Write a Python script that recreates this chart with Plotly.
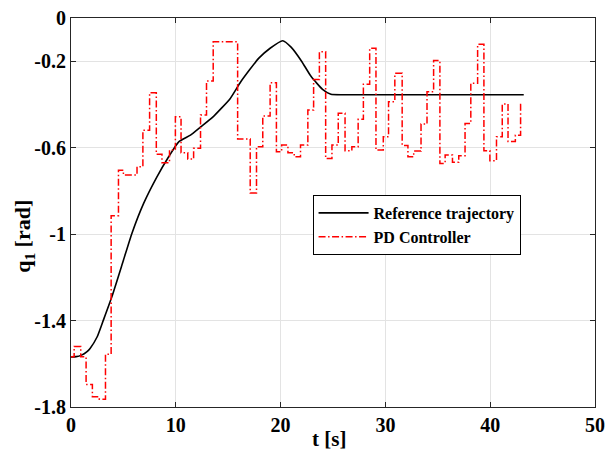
import plotly.graph_objects as go

# Reference trajectory (smooth)
ref_t = [0, 0.5, 1, 1.5, 1.82, 2.5, 3.09, 3.9, 5.01, 5.81, 6.93, 8.2, 9.32, 10.28, 11.4,
         12.4, 13.5, 15.2, 16.2, 17.9, 19, 20.2, 21, 22, 22.9, 24, 24.8, 26, 30, 43.2]
ref_q = [-1.568, -1.567, -1.56, -1.545, -1.529, -1.475, -1.398, -1.29, -1.12, -0.997,
         -0.858, -0.735, -0.642, -0.573, -0.542, -0.503, -0.46, -0.372, -0.295, -0.187,
         -0.14, -0.105, -0.135, -0.2, -0.27, -0.33, -0.353, -0.355, -0.355, -0.355]

# PD controller (piecewise constant, step start times and values)
pd_t = [0, 0.3, 0.93, 1.44, 2.04, 2.7, 3.29, 3.83, 4.53, 5.0, 6.3, 6.86, 7.5, 8.14, 8.68,
        9.4, 9.96, 10.5, 11.14, 11.7, 12.36, 12.93, 13.57, 15.9, 17.1, 17.7, 18.3, 19.0,
        19.6, 20.1, 20.7, 21.3, 21.9, 22.6, 23.15, 23.7, 24.3, 24.9, 25.5, 26.15, 26.8,
        27.4, 27.9, 28.5, 29.1, 29.8, 30.3, 30.9, 31.6, 32.15, 32.7, 33.4, 33.97, 34.6,
        35.2, 35.7, 36.4, 37.0, 37.6, 38.15, 38.8, 39.4, 39.97, 40.6, 41.15, 41.7, 42.4,
        42.9, 43.0]
pd_q = [-1.568, -1.52, -1.568, -1.696, -1.753, -1.764, -1.556, -0.915, -0.704, -0.727,
        -0.688, -0.519, -0.346, -0.63, -0.67, -0.611, -0.457, -0.623, -0.653, -0.603,
        -0.449, -0.292, -0.11, -0.56, -0.81, -0.596, -0.454, -0.3, -0.619, -0.588, -0.623,
        -0.642, -0.588, -0.426, -0.284, -0.156, -0.65, -0.588, -0.441, -0.614, -0.596,
        -0.469, -0.306, -0.14, -0.611, -0.549, -0.387, -0.256, -0.59, -0.642, -0.616,
        -0.491, -0.341, -0.197, -0.673, -0.634, -0.668, -0.637, -0.488, -0.302, -0.122,
        -0.614, -0.66, -0.549, -0.398, -0.572, -0.542, -0.4, -0.4]

x_ticks = [0, 10, 20, 30, 40, 50]
y_ticks = [-1.8, -1.4, -1, -0.6, -0.2, 0]
y_tick_labels = ["-1.8", "-1.4", "-1", "-0.6", "-0.2", "0"]

FONT = "Liberation Serif, Times New Roman, serif"

fig = go.Figure()
fig.add_trace(go.Scatter(x=ref_t, y=ref_q, mode="lines", name="Reference trajectory",
                         line=dict(color="black", width=1.6, shape="spline", smoothing=0.5)))
fig.add_trace(go.Scatter(x=pd_t, y=pd_q, mode="lines", name="PD Controller",
                         line=dict(color="#ff0000", width=1.5, dash="7px,2.5px,1.5px,2.5px",
                                   shape="hv")))

axis_common = dict(showline=True, linecolor="#262626", linewidth=1, mirror="ticks",
                   ticks="inside", ticklen=5, tickcolor="#262626", automargin=False,
                   showgrid=True, gridcolor="#e3e3e3", gridwidth=1, zeroline=False,
                   tickfont=dict(family=FONT, size=20, color="black", weight="bold"))

fig.update_layout(
    width=608, height=452,
    margin=dict(l=71, r=13, t=18, b=45, autoexpand=False),
    paper_bgcolor="white", plot_bgcolor="white",
    font=dict(family=FONT, color="black", weight="bold"),
    showlegend=True,
    legend=dict(x=0.461, y=0.545, xanchor="left", yanchor="top",
                bgcolor="white", bordercolor="black", borderwidth=1,
                font=dict(family=FONT, size=16, color="black", weight="bold"),
                itemwidth=50, tracegroupgap=0),
    annotations=[
        dict(text="t [s]", xref="paper", yref="paper", x=0.492, y=-0.082,
             xanchor="center", yanchor="middle", showarrow=False,
             font=dict(family=FONT, size=21, color="black", weight="bold")),
        dict(text="q<sub>1</sub> [rad]", xref="paper", yref="paper", x=-0.0897, y=0.44,
             xanchor="center", yanchor="middle", showarrow=False, textangle=-90,
             font=dict(family=FONT, size=22, color="black", weight="bold")),
    ],
)
fig.update_xaxes(range=[0, 50], tickvals=x_ticks, **axis_common)
fig.update_yaxes(range=[-1.8, 0], tickvals=y_ticks, ticktext=y_tick_labels, **axis_common)

fig.write_html("out.html", config={"displayModeBar": False},
               post_script="document.body.style.margin='0';document.body.style.overflow='hidden';")
